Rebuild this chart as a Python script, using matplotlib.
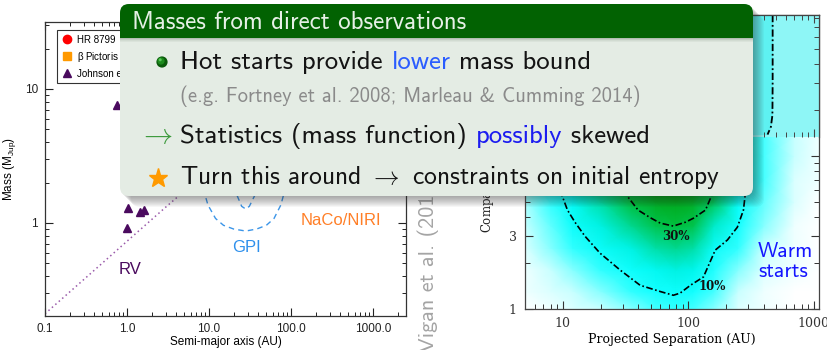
import numpy as np
import matplotlib
matplotlib.use("Agg")
import matplotlib.pyplot as plt
from matplotlib.colors import LinearSegmentedColormap, Normalize
from matplotlib.patches import FancyBboxPatch, Rectangle, Circle
from matplotlib.ticker import LogLocator, FixedLocator, FixedFormatter, NullFormatter

plt.rcParams['mathtext.fontset'] = 'cm'

# ---------------- left panel: known planets ----------------
hr8799_a = [68.0, 38.0, 24.0, 14.5]
hr8799_m = [7.0, 10.0, 10.0, 10.0]
bpic_a = [9.0]
bpic_m = [10.0]
johnson_a = [0.75, 1.04, 1.0, 1.45, 1.62]
johnson_m = [7.6, 1.29, 0.92, 1.20, 1.25]
rv_a = [0.1, 0.3, 1.0, 3.0, 5.0]
rv_m = [0.21, 0.38, 0.73, 1.32, 1.73]
gpi_a = [8.5, 9.7, 12, 15, 20, 28, 38, 50, 62, 75, 85]
gpi_m = [1.8, 1.36, 1.08, 0.96, 0.90, 0.87, 0.90, 0.96, 1.08, 1.36, 1.8]
gpi2_a = [22, 25, 28, 31, 36]
gpi2_m = [1.6, 1.33, 1.27, 1.33, 1.6]
left_xticks = [0.1, 1.0, 10.0, 100.0, 1000.0]
left_xticklabels = ["0.1", "1.0", "10.0", "100.0", "1000.0"]
left_yticks = [1, 10]
left_yticklabels = ["1", "10"]

# ---------------- right panel: detection probability ----------------
sep_grid = [5, 8, 12, 20, 35, 55, 80, 110, 160, 250, 400, 700, 1100]
mass_grid = [1.0, 1.3, 1.8, 2.5, 3.5, 5.0, 7.0, 10.0, 13.3]
det_prob = [
    [0.00, 0.01, 0.02, 0.03, 0.05, 0.07, 0.08, 0.07, 0.05, 0.02, 0.01, 0.00, 0.00],
    [0.01, 0.02, 0.03, 0.05, 0.08, 0.10, 0.11, 0.10, 0.07, 0.03, 0.01, 0.00, 0.00],
    [0.01, 0.03, 0.05, 0.08, 0.11, 0.15, 0.17, 0.16, 0.09, 0.05, 0.02, 0.01, 0.00],
    [0.02, 0.05, 0.08, 0.12, 0.17, 0.22, 0.24, 0.22, 0.12, 0.08, 0.03, 0.01, 0.00],
    [0.03, 0.06, 0.11, 0.17, 0.24, 0.29, 0.30, 0.29, 0.19, 0.10, 0.05, 0.01, 0.00],
    [0.04, 0.08, 0.14, 0.22, 0.31, 0.37, 0.38, 0.36, 0.28, 0.13, 0.06, 0.02, 0.00],
    [0.05, 0.10, 0.17, 0.26, 0.36, 0.42, 0.43, 0.41, 0.33, 0.16, 0.07, 0.02, 0.01],
    [0.05, 0.11, 0.19, 0.28, 0.38, 0.44, 0.45, 0.43, 0.35, 0.18, 0.07, 0.03, 0.01],
    [0.05, 0.11, 0.19, 0.28, 0.38, 0.44, 0.45, 0.43, 0.35, 0.18, 0.07, 0.03, 0.01],
]
c10_sep = [9.5, 10.9, 12.5, 15, 19.8, 28.6, 41.3, 60, 76, 86, 104, 132, 164, 205, 246, 275, 290]
c10_mass = [6.0, 4.44, 3.7, 3.0, 2.32, 1.80, 1.43, 1.30, 1.23, 1.27, 1.43, 1.62, 2.43, 2.83, 3.43, 4.44, 6.5]
c30_sep = [30, 39.8, 50, 59.7, 76, 95, 110, 137, 160]
c30_mass = [6.0, 4.44, 3.95, 3.65, 3.49, 3.70, 3.93, 4.44, 6.0]
top_sep = [470, 470, 468, 455, 428]
top_mass = [84, 30, 18.5, 15.5, 13.8]
right_xticks = [10, 100, 1000]
right_xticklabels = ["10", "100", "1000"]
right_yticks = [1, 3, 10, 30]
right_yticklabels = ["1", "3", "10", "30"]

W, H = 827, 350
fig = plt.figure(figsize=(W / 100, H / 100), dpi=100)


def px_axes(x0, y0, x1, y1):
    return fig.add_axes([x0 / W, 1 - y1 / H, (x1 - x0) / W, (y1 - y0) / H])


SANS = ['Liberation Sans', 'DejaVu Sans']
SERIF = ['DejaVu Serif']
CMSS = ['cmss10', 'DejaVu Sans']

# ================= left panel =================
axl = px_axes(45, 22, 406, 316)
axl.set_xscale('log')
axl.set_yscale('log')
axl.set_xlim(0.1, 2520)
axl.set_ylim(0.202, 31.6)

purple = '#4a0a5e'
axl.plot(hr8799_a, hr8799_m, 'o', color='#ff0000', ms=6, label='HR 8799', zorder=3)
axl.plot(bpic_a, bpic_m, 's', color='#ff9900', ms=6, label=r'$\mathregular{\beta}$ Pictoris', zorder=3)
axl.plot(johnson_a, johnson_m, '^', color=purple, ms=5.5, mec=purple, label='Johnson et al. (2010)', zorder=3)
axl.plot(rv_a, rv_m, color='#9a5aaa', ls=(0, (1, 2)), lw=1.1)
axl.plot(gpi_a, gpi_m, color='#3b95e8', ls=(0, (4, 3)), lw=1.0)
axl.plot(gpi2_a, gpi2_m, color='#3b95e8', ls=(0, (4, 3)), lw=1.0)

axl.text(1.09, 0.446, 'RV', color=purple, fontsize=12, family=SANS, ha='center', va='center')
axl.text(28.3, 0.65, 'GPI', color='#2e90ec', fontsize=12, family=SANS, ha='center', va='center')
axl.text(407, 1.05, 'NaCo/NIRI', color='#ff7f27', fontsize=12, family=SANS, ha='center', va='center')

axl.xaxis.set_major_locator(FixedLocator(left_xticks))
axl.xaxis.set_major_formatter(FixedFormatter(left_xticklabels))
axl.xaxis.set_minor_locator(LogLocator(base=10, subs=np.arange(2, 10)))
axl.xaxis.set_minor_formatter(NullFormatter())
axl.yaxis.set_major_locator(FixedLocator(left_yticks))
axl.yaxis.set_major_formatter(FixedFormatter(left_yticklabels))
axl.yaxis.set_minor_locator(LogLocator(base=10, subs=np.arange(2, 10)))
axl.yaxis.set_minor_formatter(NullFormatter())
axl.tick_params(which='both', direction='in', top=True, right=True, colors='#222222')
axl.tick_params(which='major', length=6, width=0.8, labelsize=8.5, pad=5)
axl.tick_params(which='minor', length=3, width=0.7)
for lab in axl.get_xticklabels() + axl.get_yticklabels():
    lab.set_family(SANS)
for sp in axl.spines.values():
    sp.set_linewidth(0.9)
    sp.set_color('#333333')
axl.set_xlabel('Semi-major axis (AU)', fontsize=8.5, family=SANS, labelpad=1)
axl.set_ylabel(r'$\mathregular{Mass\ (M_{Jup})}$', fontsize=8.5, family=SANS, labelpad=5)
leg = axl.legend(loc='upper left', bbox_to_anchor=(0.033, 0.973), borderaxespad=0,
                 prop={'family': SANS, 'size': 7}, frameon=True, fancybox=False,
                 edgecolor='black', handlelength=1.0, handletextpad=0.6,
                 borderpad=0.5, labelspacing=0.5, markerscale=1.0)
leg.get_frame().set_linewidth(0.8)

# ================= right panel =================
axr = px_axes(525, 15, 819, 309)
axr.set_xscale('log')
axr.set_yscale('log')
axr.set_xlim(5, 1100)
axr.set_ylim(1, 84)

cmap = LinearSegmentedColormap.from_list('det', [
    (0.0, '#ffffff'), (0.03 / 0.45, '#c8ffff'), (0.07 / 0.45, '#40ffff'),
    (0.10 / 0.45, '#10ffff'), (0.16 / 0.45, '#00f6ee'), (0.24 / 0.45, '#00d890'),
    (0.30 / 0.45, '#00c040'), (1.0, '#009600')])
SX, MY = np.meshgrid(sep_grid, mass_grid)
axr.pcolormesh(SX, MY, np.array(det_prob), shading='gouraud', cmap=cmap,
               norm=Normalize(0, 0.45), rasterized=True, zorder=0)
dashdot = (0, (4, 1.5, 1, 1.5))
axr.plot(c10_sep, c10_mass, color='black', ls=dashdot, lw=1.2, zorder=2)
axr.plot(c30_sep, c30_mass, color='black', ls=dashdot, lw=1.2, zorder=2)
axr.text(155, 1.41, '10%', family=SERIF, fontsize=8.5, fontweight='bold', color='#111111',
         ha='center', va='center', zorder=3)
axr.text(79, 3.0, '30%', family=SERIF, fontsize=8.5, fontweight='bold', color='#111111',
         ha='center', va='center', zorder=3)
axr.text(360, 2.05, 'Warm\nstarts', family=CMSS, fontsize=15.5, color='#1414ff',
         ha='left', va='center', linespacing=1.05, zorder=3)

axr.xaxis.set_major_locator(FixedLocator(right_xticks))
axr.xaxis.set_major_formatter(FixedFormatter(right_xticklabels))
axr.xaxis.set_minor_locator(LogLocator(base=10, subs=np.arange(2, 10)))
axr.xaxis.set_minor_formatter(NullFormatter())
axr.yaxis.set_major_locator(FixedLocator(right_yticks))
axr.yaxis.set_major_formatter(FixedFormatter(right_yticklabels))
axr.yaxis.set_minor_locator(LogLocator(base=10, subs=np.arange(2, 10)))
axr.yaxis.set_minor_formatter(NullFormatter())
axr.tick_params(which='both', direction='in', top=True, right=True, colors='#333333')
axr.tick_params(which='major', length=6, width=0.8, labelsize=9, pad=6)
axr.tick_params(which='minor', length=3.5, width=0.7)
for lab in axr.get_xticklabels() + axr.get_yticklabels():
    lab.set_family(SERIF)
for sp in axr.spines.values():
    sp.set_linewidth(0.9)
    sp.set_color('#444444')
axr.set_xlabel('Projected Separation (AU)', family=SERIF, fontsize=9, labelpad=2)

# upper strip of the right panel
axt = px_axes(525, 15, 819, 137)
axt.set_xscale('log')
axt.set_yscale('log')
axt.set_xlim(5, 1100)
axt.set_ylim(13.3, 84)
axt.set_facecolor('#8ef6f6')
axt.fill_betweenx(top_mass, 5, top_sep, color='#5ef1f1', lw=0)
axt.plot(top_sep, top_mass, color='black', ls=dashdot, lw=1.3)
axt.xaxis.set_minor_locator(LogLocator(base=10, subs=np.arange(2, 10)))
axt.yaxis.set_minor_locator(LogLocator(base=10, subs=np.arange(2, 10)))
axt.tick_params(which='both', direction='in', top=True, bottom=True, right=True, left=False,
                labelbottom=False, labelleft=False, colors='#444444')
axt.tick_params(which='major', length=6, width=0.8)
axt.tick_params(which='minor', length=3.5, width=0.7)
axt.spines['left'].set_visible(False)
axt.spines['bottom'].set_visible(False)
for sp in ('top', 'right'):
    axt.spines[sp].set_linewidth(0.9)
    axt.spines[sp].set_color('#444444')

# ================= slide overlay =================
ov = fig.add_axes([0, 0, 1, 1], zorder=10)
ov.set_xlim(0, W)
ov.set_ylim(H, 0)
ov.axis('off')
ov.patch.set_visible(False)

ov.text(428, 352, 'Vigan et al. (2012)', rotation=90, ha='center', va='bottom',
        family=CMSS, fontsize=16, color='#a4a4a4', zorder=2)
ov.text(489, 233, r'Companion mass (M$_{\rm Jup}$)', rotation=90, ha='center', va='bottom',
        family=SERIF, fontsize=8.5, color='#222222', zorder=2)

bx0, by0, bx1, by1 = 120, 4, 753, 196
bw, bh = bx1 - bx0, by1 - by0
for d in range(1, 12):
    ov.add_patch(FancyBboxPatch((bx0 + d, by0 + d), bw, bh,
                                boxstyle='round,pad=0,rounding_size=9',
                                fc='#303030', ec='none', alpha=0.045, zorder=5))
ov.add_patch(FancyBboxPatch((bx0, by0), bw, bh, boxstyle='round,pad=0,rounding_size=9',
                            fc='#e4ece4', ec='none', zorder=6))
hdr = FancyBboxPatch((bx0, by0), bw, bh, boxstyle='round,pad=0,rounding_size=9',
                     fc='#026202', ec='none', zorder=7)
ov.add_patch(hdr)
clip = Rectangle((bx0 - 2, by0 - 2), bw + 4, 38 - by0 + 2, transform=ov.transData)
hdr.set_clip_path(clip)
for k, a in enumerate([0.28, 0.18, 0.10, 0.05]):
    ov.add_patch(Rectangle((bx0, 38 + k), bw, 1, fc='#2a4a2a', ec='none', alpha=a, zorder=7))

ov.text(132, 29, 'Masses from direct observations', family=CMSS, fontsize=18,
        color='#e6f0e6', va='baseline', ha='left', zorder=8)

renderer = fig.canvas.get_renderer()


def text_width(s, size):
    t = ov.text(0, 0, s, family=CMSS, fontsize=size)
    w = t.get_window_extent(renderer).width
    t.remove()
    return w


def draw_runs(x, y, runs, size):
    prefix = ''
    ref = text_width('I', size)
    for s, c in runs:
        xs = x if not prefix else x + text_width(prefix + 'I', size) - ref
        ov.text(xs, y, s, family=CMSS, fontsize=size, color=c, va='baseline', ha='left', zorder=8)
        prefix += s


BODY = 19.3
ink = '#141414'
draw_runs(180, 69, [('Hot starts provide ', ink), ('lower', '#2a5cff'), (' mass bound', ink)], BODY)
draw_runs(180, 102, [('(e.g. Fortney et al. 2008; Marleau & Cumming 2014)', '#8a8a8a')], 14.8)
draw_runs(180, 143, [('Statistics (mass function) ', ink), ('possibly', '#1c1cf0'), (' skewed', ink)], BODY)
draw_runs(180, 184, [(r'Turn this around $\rightarrow$ constraints on initial entropy', ink)], 18.4)

# bullets
ov.add_patch(Circle((162, 62), 5.6, fc='#0a5a0a', ec='none', zorder=8))
ov.add_patch(Circle((161, 61), 3.6, fc='#1c8a1c', ec='none', zorder=8))
ov.add_patch(Circle((160.2, 59.8), 1.5, fc='#5ac85a', ec='none', zorder=8))
ov.text(155, 135, r'$\rightarrow$', fontsize=21, color='#3c9a3c', ha='center', va='center', zorder=8)
ov.plot([158], [178], marker='*', ms=14, color='#ff9a00', mec='#ff9a00', zorder=8)

fig.savefig('out.png', dpi=100)
